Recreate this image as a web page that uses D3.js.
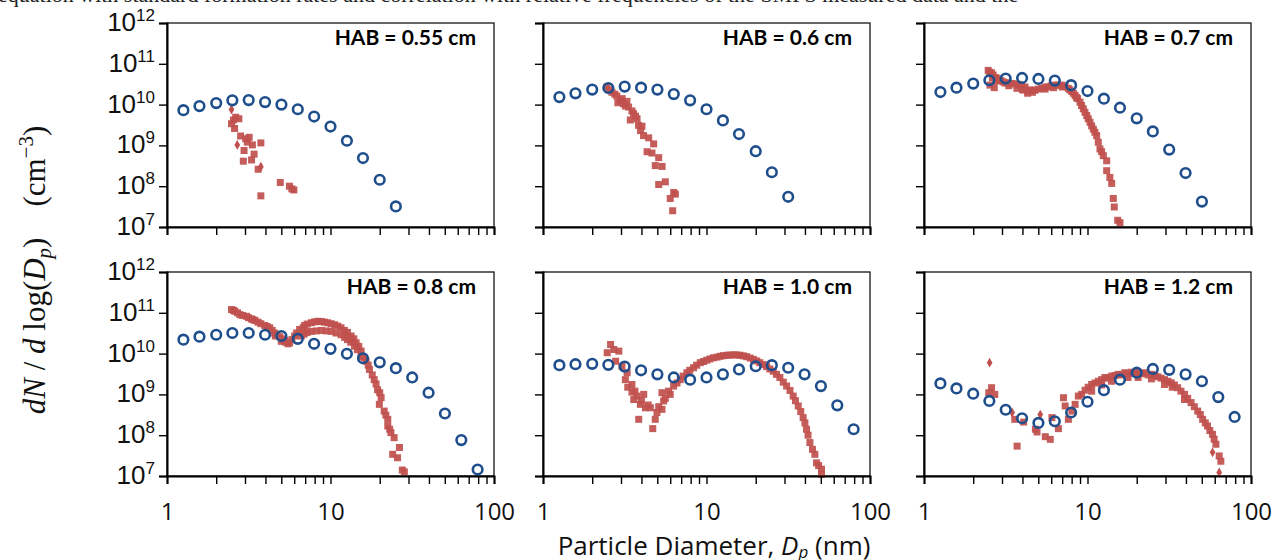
<!DOCTYPE html>
<html>
<head>
<meta charset="utf-8">
<script src="https://cdn.jsdelivr.net/npm/d3@7"></script>
<style>
  body { margin: 0; background: #fff; }
  svg { display: block; }
</style>
</head>
<body>
<div id="chart"></div>
<script>
// panel titles
var habLabels = ["HAB = 0.55 cm", "HAB = 0.6 cm", "HAB = 0.7 cm", "HAB = 0.8 cm", "HAB = 1.0 cm", "HAB = 1.2 cm"];

// bin centres (nm) of the modelled size distribution
var binDp = [1.26, 1.58, 2.0, 2.51, 3.16, 3.98, 5.01, 6.31, 7.94, 10, 12.6, 15.8, 20, 25.1, 31.6, 39.8, 50.1, 63.1, 79.4];

// model (blue open circles), dN/dlogDp in cm^-3
var model055 = [7.3e9, 9.2e9, 1.09e10, 1.27e10, 1.29e10, 1.15e10, 1.0e10, 7.7e9, 5.1e9, 2.9e9, 1.3e9, 4.9e8, 1.44e8, 3.2e7];
var model06  = [1.53e10, 1.89e10, 2.33e10, 2.55e10, 2.76e10, 2.6e10, 2.33e10, 1.81e10, 1.27e10, 7.7e9, 4.1e9, 1.9e9, 7.2e8, 2.2e8, 5.5e7];
var model07  = [2.03e10, 2.6e10, 3.27e10, 3.95e10, 4.35e10, 4.5e10, 4.25e10, 3.88e10, 3.0e10, 2.15e10, 1.4e10, 8.4e9, 4.6e9, 2.2e9, 7.9e8, 2.1e8, 4.2e7];
var model08  = [2.2e10, 2.6e10, 2.9e10, 3.2e10, 3.2e10, 2.9e10, 2.7e10, 2.3e10, 1.74e10, 1.31e10, 9.9e9, 7.7e9, 6.1e9, 4.4e9, 2.6e9, 1.1e9, 3.4e8, 7.6e7, 1.44e7];
var model10  = [5.2e9, 5.5e9, 5.6e9, 5.3e9, 4.8e9, 3.9e9, 3.1e9, 2.6e9, 2.3e9, 2.6e9, 3.1e9, 4.1e9, 4.9e9, 5.2e9, 4.5e9, 3.1e9, 1.6e9, 5.4e8, 1.4e8];
var model12  = [1.86e9, 1.4e9, 1.04e9, 6.9e8, 4.2e8, 2.6e8, 2.0e8, 2.2e8, 3.6e8, 6.6e8, 1.27e9, 2.3e9, 3.4e9, 4.2e9, 4.0e9, 3.1e9, 2.1e9, 8.6e8, 2.8e8];

// measured (red squares), [Dp nm, dN/dlogDp]
var meas055 = [[2.48, 3.4e9], [2.63, 4.9e9], [2.75, 4.5e9], [2.59, 2.6e9], [2.82, 1.7e9], [3.03, 1.45e9], [3.18, 1.58e9],
  [3.33, 1.03e9], [3.75, 1.15e9], [2.96, 7.5e8], [3.41, 6.1e8], [2.93, 4.1e8], [3.29, 4.4e8], [3.61, 2.6e8],
  [4.93, 1.23e8], [5.61, 1.0e8], [5.97, 8.1e7], [5.8, 8.6e7], [3.75, 5.8e7], [2.55, 4.2e9], [3.1, 1.2e9]];
var meas06 = [[2.46, 2.7e10], [2.64, 2.0e10], [2.83, 1.62e10], [2.97, 1.27e10], [3.26, 1.2e10], [2.87, 1.11e10],
  [3.19, 9.2e9], [3.34, 8.7e9], [3.05, 1.4e10], [3.58, 6.0e9], [3.42, 4.2e9], [3.76, 4.5e9], [3.84, 3.1e9], [4.03, 2.95e9],
  [3.95, 2.3e9], [4.12, 1.74e9], [4.43, 1.53e9], [4.75, 1.09e9], [4.33, 7.0e8], [4.64, 6.5e8], [5.1, 5.0e8],
  [4.86, 3.2e8], [5.35, 3.05e8], [5.6, 1.28e8], [5.1, 1.1e8], [6.3, 7.0e7], [6.45, 6.4e7], [6.0, 5.0e7], [6.21, 2.5e7],
  [2.55, 2.3e10], [2.75, 1.8e10], [3.1, 1.05e10], [3.5, 7.0e9], [3.68, 5.2e9]];
var meas07 = [[2.47, 6.9e10], [2.52, 6.2e10], [2.59, 6.0e10], [2.53, 3.0e10], [2.69, 2.6e10], [2.62, 4.5e10], [2.75, 4.6e10],
  [2.65, 5.3e10], [2.8, 3.8e10], [2.85, 4.3e10], [2.95, 3.9e10], [3.05, 3.6e10], [3.13, 3.4e10], [3.25, 3.4e10], [3.3, 2.9e10],
  [3.44, 3.3e10], [3.6, 3.2e10], [3.7, 2.5e10], [3.77, 3.15e10], [3.95, 2.9e10], [4.0, 2.3e10], [4.15, 2.7e10], [4.3, 1.9e10],
  [4.34, 2.15e10], [4.1, 2.3e10], [4.5, 2.3e10], [4.6, 2.0e10], [4.77, 2.24e10], [5.0, 2.4e10], [5.25, 2.5e10], [5.5, 2.7e10],
  [5.5, 2.4e10], [5.75, 2.7e10], [6.0, 2.9e10], [6.2, 2.6e10], [6.33, 3.0e10], [6.6, 3.0e10], [6.95, 3.0e10], [7.0, 2.7e10],
  [7.3, 2.8e10], [7.63, 2.5e10], [7.8, 2.3e10], [8.0, 2.1e10], [8.2, 1.9e10], [8.39, 1.69e10], [8.55, 1.5e10], [8.7, 1.4e10],
  [9.0, 1.15e10], [9.2, 9.5e9], [9.42, 7.9e9], [9.65, 6.5e9], [9.89, 5.4e9], [10.1, 4.5e9], [10.36, 3.7e9], [10.6, 3.0e9],
  [10.86, 2.5e9], [11.1, 2.1e9], [11.38, 1.74e9], [11.64, 1.19e9], [11.92, 8.2e8], [12.2, 7.0e8], [12.5, 5.6e8],
  [13.1, 4.2e8], [13.1, 2.4e8], [13.7, 1.64e8], [14.06, 1.17e8], [14.38, 5.0e7], [14.58, 3.1e7], [15.3, 1.46e7], [15.8, 1.28e7]];
var meas08 = [[2.48, 1.2e11], [2.55, 1.15e11], [2.6, 1.09e11], [2.7, 1.0e11], [2.79, 9.0e10], [2.9, 8.6e10], [3.06, 8.2e10],
  [3.15, 7.6e10], [3.28, 7.1e10], [3.35, 6.8e10], [3.45, 6.5e10], [3.6, 5.9e10], [3.75, 5.4e10], [3.96, 4.9e10], [4.1, 4.6e10],
  [4.25, 4.3e10], [4.4, 3.7e10], [4.56, 3.2e10], [4.6, 2.7e10], [4.7, 2.9e10], [4.89, 2.6e10], [5.0, 2.0e10], [5.1, 2.3e10],
  [5.24, 2.1e10], [5.3, 1.9e10], [5.5, 1.74e10], [5.62, 1.84e10], [5.8, 2.2e10], [6.03, 2.7e10], [6.2, 3.2e10], [6.47, 3.9e10],
  [6.63, 2.7e10], [6.8, 4.3e10], [6.9, 3.0e10], [6.94, 4.9e10], [7.2, 5.3e10], [7.2, 3.3e10], [7.63, 5.7e10], [7.63, 3.5e10],
  [8.0, 6.0e10], [8.2, 3.6e10], [8.37, 6.2e10], [8.78, 3.7e10], [8.8, 6.1e10], [9.19, 5.9e10], [9.4, 3.6e10], [9.6, 5.7e10],
  [10.1, 5.4e10], [10.1, 3.5e10], [10.6, 5.1e10], [10.8, 3.2e10], [11.09, 4.7e10], [11.6, 4.3e10], [11.6, 2.9e10],
  [12.17, 3.7e10], [12.2, 2.5e10], [12.7, 3.3e10], [12.7, 2.2e10], [13.3, 1.9e10], [13.37, 2.7e10], [13.9, 2.3e10],
  [14.0, 1.52e10], [14.35, 1.84e10], [14.6, 1.25e10], [14.9, 1.5e10], [15.4, 1.15e10], [15.4, 8.6e9], [16.0, 8.0e9],
  [16.5, 6.5e9], [17.0, 5.2e9], [17.3, 4.1e9], [18.0, 3.0e9], [18.5, 2.3e9], [19.0, 1.8e9], [19.4, 1.3e9], [20.0, 1.1e9],
  [20.4, 8.3e8], [19.9, 5.7e8], [21.3, 3.9e8], [21.8, 3.1e8], [22.4, 2.45e8], [22.4, 1.68e8], [23.0, 1.4e8], [23.4, 1.16e8],
  [24.5, 8.7e7], [26.4, 5.0e7], [24.0, 3.4e7], [25.7, 2.8e7], [27.5, 1.4e7], [28.3, 1.26e7]];
var meas10 = [[2.59, 1.67e10], [2.47, 1.05e10], [2.71, 1.26e10], [2.91, 1.15e10], [2.78, 6.5e9], [3.04, 4.9e9], [3.27, 3.4e9],
  [3.19, 2.3e9], [3.3, 1.5e9], [3.5, 1.75e9], [3.5, 1.14e9], [3.65, 1.2e9], [3.76, 9.1e8], [4.0, 7.0e8], [4.13, 1.0e9],
  [3.94, 5.7e8], [4.23, 4.7e8], [4.4, 5.5e8], [3.85, 2.45e8], [3.59, 7.5e8], [4.54, 4.7e8], [4.98, 3.6e8], [4.86, 2.45e8],
  [4.69, 1.45e8], [5.1, 5.0e8], [5.34, 4.3e8], [5.47, 6.9e8], [5.6, 8.0e8], [5.34, 1.1e9], [5.86, 1.2e9], [6.0, 1.0e9],
  [6.29, 1.6e9], [6.6, 1.9e9], [6.91, 2.3e9], [7.2, 2.8e9], [7.59, 3.4e9], [7.9, 3.9e9], [8.33, 4.5e9], [8.7, 5.2e9],
  [9.16, 6.0e9], [9.6, 6.4e9], [10.04, 6.9e9], [10.5, 7.4e9], [11.03, 7.9e9], [11.6, 8.2e9], [12.13, 8.6e9], [12.7, 8.9e9],
  [13.3, 9.1e9], [13.9, 9.2e9], [14.6, 9.3e9], [15.3, 9.3e9], [16.0, 9.1e9], [16.8, 8.8e9], [17.6, 8.4e9], [18.5, 7.8e9],
  [19.4, 7.2e9], [20.3, 6.6e9], [21.2, 6.0e9], [22.2, 5.4e9], [23.3, 4.8e9], [24.4, 4.2e9], [25.6, 3.7e9], [26.8, 3.1e9],
  [28.1, 2.6e9], [29.5, 2.0e9], [30.9, 1.6e9], [32.4, 1.25e9], [33.9, 9.1e8], [35.0, 7.0e8], [36.4, 5.2e8], [37.7, 3.8e8],
  [39.0, 2.7e8], [40.0, 2.0e8], [40.9, 1.4e8], [41.8, 1.0e8], [42.9, 6.6e7], [44.5, 4.5e7], [46.0, 3.4e7], [47.1, 2.1e7],
  [48.5, 1.8e7], [50.5, 1.47e7], [50.5, 1.1e7]];
var meas12 = [[2.59, 1.46e9], [2.49, 1.1e9], [2.71, 1.0e9], [3.59, 2.45e8], [4.07, 2.1e8], [3.71, 5.4e7], [4.8, 1.4e8],
  [4.91, 1.2e8], [5.52, 9.2e7], [5.92, 7.9e7], [6.06, 2.7e8], [6.64, 1.45e8], [7.13, 8.3e8], [7.3, 5.2e8], [7.64, 2.45e8],
  [8.02, 3.9e8], [8.4, 5.7e8], [8.79, 9.1e8], [9.2, 1.0e9], [9.66, 1.27e9], [10.1, 1.5e9], [10.6, 1.75e9], [10.6, 1.2e9],
  [11.1, 1.9e9], [11.64, 2.1e9], [12.2, 2.3e9], [12.2, 1.7e9], [12.77, 2.6e9], [13.4, 2.5e9], [14.03, 2.8e9], [14.03, 2.1e9],
  [14.7, 2.9e9], [15.39, 3.1e9], [16.1, 3.0e9], [16.9, 3.4e9], [17.7, 3.2e9], [17.7, 2.6e9], [18.6, 3.5e9], [19.5, 3.3e9],
  [20.4, 3.5e9], [20.4, 2.6e9], [21.4, 3.2e9], [22.4, 3.4e9], [23.5, 3.0e9], [24.6, 3.1e9], [24.6, 2.4e9], [25.8, 2.9e9],
  [26.9, 2.7e9], [28.2, 2.5e9], [29.6, 2.3e9], [29.6, 1.75e9], [31.0, 2.1e9], [32.5, 1.93e9], [33.0, 1.5e9], [34.0, 1.7e9],
  [35.6, 1.46e9], [37.3, 1.2e9], [39.2, 1.0e9], [39.2, 7.5e8], [41.0, 8.0e8], [43.0, 6.3e8], [45.0, 5.0e8], [47.2, 3.9e8],
  [49.0, 3.2e8], [50.6, 2.45e8], [52.5, 2.0e8], [54.2, 1.68e8], [56.0, 1.3e8], [58.2, 1.05e8], [59.5, 8.0e7], [61.0, 6.0e7],
  [63.9, 3.1e7], [65.4, 2.3e7]];

// measured (red diamonds)
var diam055 = [[2.48, 7.6e9], [2.69, 1.03e9], [3.75, 3.0e8]];
var diam12 = [[2.52, 6.0e9], [3.46, 3.6e8], [5.14, 3.2e8], [58.2, 3.8e7], [63.9, 1.22e7]];

var models = [model055, model06, model07, model08, model10, model12];
var measured = [meas055, meas06, meas07, meas08, meas10, meas12];
var diamonds = [diam055, [], [], [], [], diam12];

var xTicks = [1, 2, 3, 4, 5, 6, 7, 8, 9, 10, 20, 30, 40, 50, 60, 70, 80, 90, 100];
var yTicks = [1e7, 1e8, 1e9, 1e10, 1e11, 1e12];

var W = 1277, H = 560;
var colLeft = [167, 543, 924];
var rowTop = [23, 272];
var pw = 327, ph = 204;

var blue = "#1f4e8c", red = "#c0504d";

var svg = d3.select("#chart").append("svg")
    .attr("width", W)
    .attr("height", H);

// clipped caption line from the page above the figure
svg.append("text")
    .attr("x", -2)
    .attr("y", 2)
    .attr("font-family", "Liberation Serif")
    .attr("font-size", 22)
    .attr("fill", "#222")
    .text("equation with standard formation rates and correlation with relative frequencies of the SMPS measured data and the");

habLabels.forEach(function(label, i) {
    var col = i % 3, row = Math.floor(i / 3);
    var g = svg.append("g")
        .attr("transform", "translate(" + colLeft[col] + "," + rowTop[row] + ")");

    var x = d3.scaleLog().domain([1, 100]).range([0, pw]);
    var y = d3.scaleLog().domain([1e7, 1e12]).range([ph, 0]);

    g.append("rect")
        .attr("width", pw)
        .attr("height", ph)
        .attr("fill", "none")
        .attr("stroke", "#000")
        .attr("stroke-width", 1.2);

    // red measured points
    g.selectAll("rect.meas")
        .data(measured[i])
        .enter().append("rect")
        .attr("class", "meas")
        .attr("x", function(d) { return x(d[0]) - 3.5; })
        .attr("y", function(d) { return y(d[1]) - 3.5; })
        .attr("width", 7)
        .attr("height", 7)
        .attr("fill", red)
        .attr("fill-opacity", 0.92);

    g.selectAll("path.diam")
        .data(diamonds[i])
        .enter().append("path")
        .attr("class", "diam")
        .attr("d", d3.symbol().type(d3.symbolDiamond).size(28))
        .attr("transform", function(d) { return "translate(" + x(d[0]) + "," + y(d[1]) + ")"; })
        .attr("fill", red);

    // blue model circles
    g.selectAll("circle")
        .data(models[i])
        .enter().append("circle")
        .attr("cx", function(d, j) { return x(binDp[j]); })
        .attr("cy", function(d) { return y(d); })
        .attr("r", 4.8)
        .attr("fill", "none")
        .attr("stroke", blue)
        .attr("stroke-width", 2.6);

    // axes
    var xAxis = d3.axisBottom(x).tickValues(xTicks).tickSize(8).tickPadding(19)
        .tickFormat(function(d) { return row == 1 && (d == 1 || d == 10 || d == 100) ? d : ""; });
    var gx = g.append("g")
        .attr("transform", "translate(0," + ph + ")")
        .call(xAxis);
    gx.selectAll("text")
        .attr("font-family", "Open Sans")
        .attr("font-size", 24)
        .attr("fill", "#111");

    var gy = g.append("g").call(d3.axisLeft(y).tickValues(yTicks).tickSize(8).tickFormat(""));
    [gx, gy].forEach(function(a) {
        a.select(".domain").attr("stroke", "#000").attr("stroke-width", 2);
        a.selectAll(".tick line").attr("stroke", "#000").attr("stroke-width", 1.4);
    });

    if (col == 0) {
        yTicks.forEach(function(t) {
            var lab = g.append("text")
                .attr("x", -12)
                .attr("y", y(t) + 8)
                .attr("text-anchor", "end")
                .attr("font-family", "Liberation Sans")
                .attr("font-size", 26)
                .attr("fill", "#111");
            lab.append("tspan").text("10");
            lab.append("tspan")
                .attr("font-size", 17)
                .attr("dy", -10)
                .text(Math.round(Math.log10(t)));
        });
    }

    g.append("text")
        .attr("x", pw - 18)
        .attr("y", 22)
        .attr("text-anchor", "end")
        .attr("font-family", "Lato")
        .attr("font-weight", "bold")
        .attr("font-size", 21)
        .attr("fill", "#000")
        .text(label);
});

// x title
var xt = svg.append("text")
    .attr("x", 714)
    .attr("y", 555)
    .attr("text-anchor", "middle")
    .attr("font-family", "Open Sans")
    .attr("font-size", 26)
    .attr("fill", "#111");
xt.append("tspan").text("Particle Diameter, ");
xt.append("tspan").attr("font-style", "italic").text("D");
xt.append("tspan").attr("font-style", "italic").attr("font-size", 17).attr("dy", 3).text("p");
xt.append("tspan").attr("dy", -3).text(" (nm)");

// y title
var yt = svg.append("text")
    .attr("transform", "translate(45,270) rotate(-90)")
    .attr("text-anchor", "middle")
    .attr("font-family", "Liberation Serif")
    .attr("font-size", 31)
    .attr("fill", "#111");
yt.append("tspan").attr("font-style", "italic").text("dN");
yt.append("tspan").text(" / ");
yt.append("tspan").attr("font-style", "italic").text("d");
yt.append("tspan").text(" log(");
yt.append("tspan").attr("font-style", "italic").text("D");
yt.append("tspan").attr("font-style", "italic").attr("font-size", 21).attr("dy", 6).text("p");
yt.append("tspan").attr("dy", -6).text(")\u2002\u2002(cm");
yt.append("tspan").attr("font-size", 21).attr("dy", -12).text("\u22123");
yt.append("tspan").attr("dy", 12).text(")");
</script>
</body>
</html>
